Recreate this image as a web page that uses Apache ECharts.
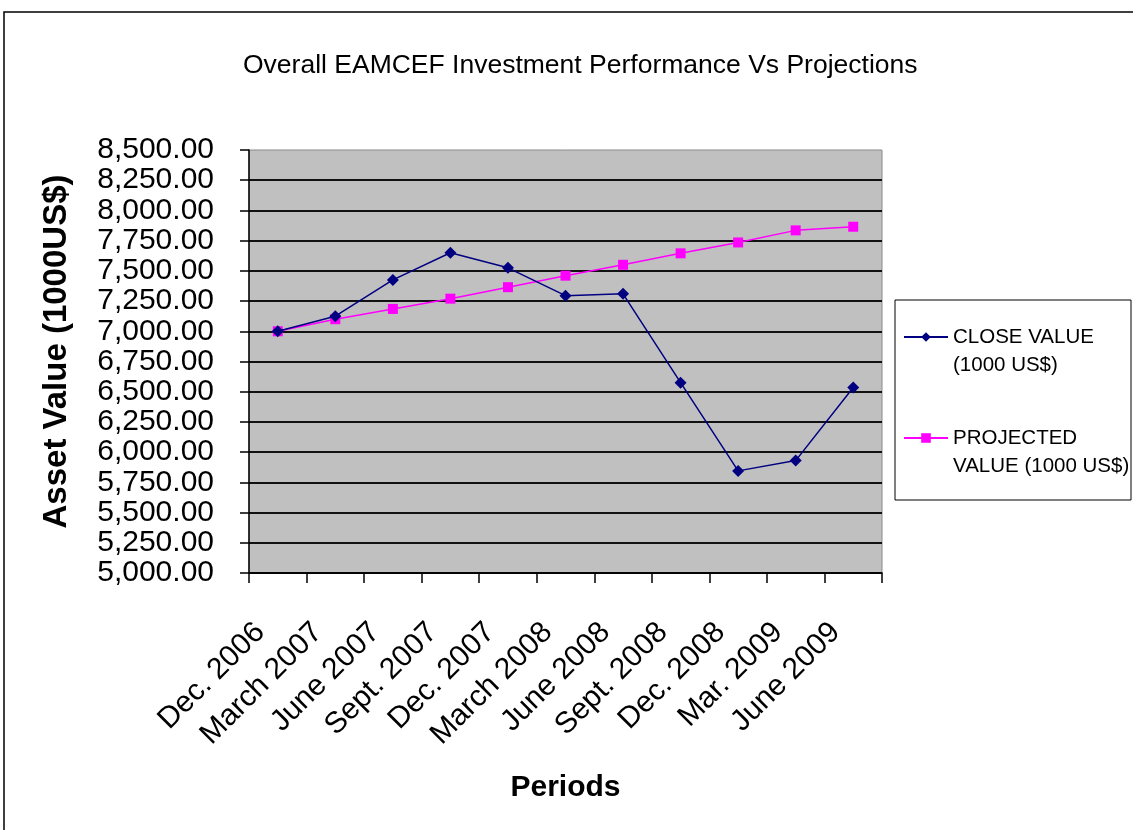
<!DOCTYPE html>
<html>
<head>
<meta charset="utf-8">
<script src="https://cdn.jsdelivr.net/npm/echarts@6/dist/echarts.min.js"></script>
<style>
  html, body { margin: 0; padding: 0; background: #fff; }
  #chart { width: 1133px; height: 830px; }
</style>
</head>
<body>
<div id="chart"></div>
<script>
// periods on the x axis
const periods = ['Dec. 2006', 'March 2007', 'June 2007', 'Sept. 2007', 'Dec. 2007',
  'March 2008', 'June 2008', 'Sept. 2008', 'Dec. 2008', 'Mar. 2009', 'June 2009'];
// values (1000 US$)
const closeValue = [7000, 7125, 7425, 7650, 7525, 7295, 7310, 6575, 5845, 5930, 6535];
const projectedValue = [7000, 7100, 7185, 7270, 7365, 7460, 7550, 7645, 7735, 7835, 7865];

const FONT = 'Arial, "Liberation Sans", sans-serif';

const chart = echarts.init(document.getElementById('chart'));

const fmt = (v) => v.toLocaleString('en-US', {minimumFractionDigits: 2, maximumFractionDigits: 2});

const option = {
  animation: false,
  backgroundColor: '#fff',
  title: {
    text: 'Overall EAMCEF Investment Performance Vs Projections',
    left: 238,
    top: 47,
    textStyle: { fontFamily: FONT, fontSize: 26.5, fontWeight: 'normal', color: '#000' }
  },
  graphic: [
    // outer chart frame
    { type: 'rect', shape: { x: 4, y: 12, width: 1200, height: 900 },
      style: { fill: null, stroke: '#000', lineWidth: 1.5 }, silent: true },
    // legend box
    { type: 'rect', shape: { x: 895, y: 300, width: 236, height: 200 },
      style: { fill: '#fff', stroke: '#000', lineWidth: 1 }, silent: true, z: -1 }
  ],
  legend: {
    orient: 'vertical',
    left: 903,
    top: 295,
    padding: 0,
    itemGap: 17,
    itemWidth: 44,
    itemHeight: 12,
    // leading blank line keeps the first text line level with the icon
    formatter: (name) => name === 'CLOSE VALUE (1000 US$)'
      ? ' \nCLOSE VALUE\n(1000 US$)' : ' \nPROJECTED\nVALUE (1000 US$)',
    textStyle: { fontFamily: FONT, fontSize: 20.5, lineHeight: 28, color: '#000' }
  },
  grid: {
    left: 249, top: 150, width: 633, height: 423,
    show: true, backgroundColor: '#c0c0c0', borderColor: '#8a8a8a', borderWidth: 1
  },
  xAxis: {
    type: 'category',
    data: periods,
    boundaryGap: true,
    name: 'Periods',
    nameLocation: 'middle',
    nameGap: 200,
    nameTextStyle: { fontFamily: FONT, fontSize: 30, fontWeight: 'bold', color: '#000' },
    axisLine: { lineStyle: { color: '#000', width: 1.5 } },
    axisTick: { show: true, length: 10, alignWithLabel: false, lineStyle: { color: '#000', width: 1.5 } },
    axisLabel: {
      rotate: 45, interval: 0, margin: 37, padding: [0, 25, 0, 0],
      fontFamily: FONT, fontSize: 30, color: '#000'
    },
    splitLine: { show: false }
  },
  yAxis: {
    type: 'value',
    min: 5000, max: 8500, interval: 250,
    name: 'Asset Value (1000US$)',
    nameLocation: 'middle',
    nameGap: 176,
    nameTextStyle: { fontFamily: FONT, fontSize: 33, fontWeight: 'bold', color: '#000', padding: [0, 0, 0, 20] },
    axisLine: { show: true, lineStyle: { color: '#000', width: 1.5 } },
    axisTick: { show: true, length: 9, lineStyle: { color: '#000', width: 1.5 } },
    axisLabel: { margin: 35, fontFamily: FONT, fontSize: 30, color: '#000', formatter: fmt },
    splitLine: { show: true, showMaxLine: false, lineStyle: { color: '#111', width: 1.8 } }
  },
  series: [
    {
      name: 'CLOSE VALUE (1000 US$)',
      type: 'line',
      data: closeValue,
      symbol: 'diamond',
      symbolSize: 12,
      color: '#000080',
      lineStyle: { color: '#000080', width: 1.5 },
      itemStyle: { color: '#000080' },
      z: 3
    },
    {
      name: 'PROJECTED VALUE (1000 US$)',
      type: 'line',
      data: projectedValue,
      symbol: 'rect',
      symbolSize: 10,
      color: '#ff00ff',
      lineStyle: { color: '#ff00ff', width: 1.5 },
      itemStyle: { color: '#ff00ff' },
      z: 2
    }
  ]
};

chart.setOption(option);
</script>
</body>
</html>
